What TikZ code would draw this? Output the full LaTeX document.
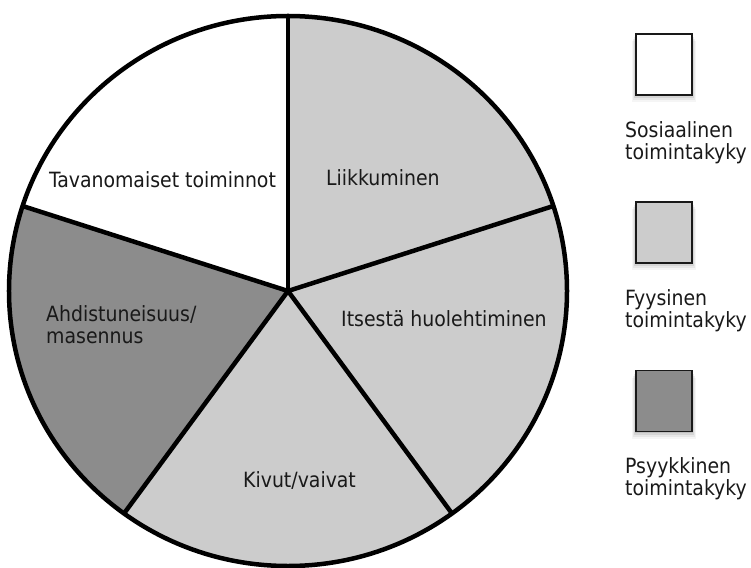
\documentclass[tikz,border=0pt]{standalone}
\usepackage{fontspec}
\setmainfont{DejaVu Sans Condensed}
\begin{document}
\begin{tikzpicture}[x=1pt,y=1pt,
  outline/.style={draw=black,line width=4.5pt,line join=round},
  lbl/.style={font=\fontsize{21}{25}\selectfont,inner sep=0pt,align=left,text=black!90},
  legbox/.style={draw=black!90,line width=1.8pt,minimum width=56pt,minimum height=61pt,inner sep=0pt},
  shadowbox/.style={fill=black,draw=none,minimum width=56pt,minimum height=61pt,inner sep=0pt},
  ell/.style={x radius=279pt,y radius=275pt}]
\definecolor{lightg}{HTML}{CCCCCC}
\definecolor{darkg}{HTML}{8C8C8C}
\useasboundingbox (-288,-276) rectangle (463,291);
\coordinate (c) at (0,0);
\coordinate (p1) at (90:279pt and 275pt);
\coordinate (p2) at (18:279pt and 275pt);
\coordinate (p3) at (-54:279pt and 275pt);
\coordinate (p4) at (-126:279pt and 275pt);
\coordinate (p5) at (162:279pt and 275pt);
% slices
\fill[lightg] (c) -- (p1) arc[start angle=90,end angle=-126,ell] -- cycle;
\fill[white] (c) -- (p1) arc[start angle=90,end angle=162,ell] -- cycle;
\fill[darkg] (c) -- (p5) arc[start angle=162,end angle=234,ell] -- cycle;
% boundaries
\draw[outline] (c) ellipse[ell];
\foreach \p in {p1,p2,p3,p4,p5} \draw[outline] (c) -- (\p);
% labels
\node[lbl,anchor=base west] (tav) at (-239,103) {Tavanomaiset toiminnot};
\node[lbl,anchor=base west] (lii) at (38,105) {Liikkuminen};
\node[lbl,anchor=base west] (its) at (53,-35) {Itsestä huolehtiminen};
\node[lbl,anchor=base west] (ahd1) at (-242,-30) {Ahdistuneisuus/};
\node[lbl,anchor=base west] (ahd2) at (-242,-52) {masennus};
\node[lbl,anchor=base west] (kiv) at (-45,-196) {Kivut/vaivat};
% legend shadows (soft)
\foreach \y in {226.5,58.5,-110}{
  \foreach \d/\o in {7/0.04,5/0.06,3/0.08,1.5/0.1}{
    \fill[black,opacity=\o] (376-28-\d*0.6,\y-30.5-\d) rectangle (376+28+\d*0.6,\y+30.5-\d);
  }
}
\node[legbox,fill=white] (b1) at (376,226.5) {};
\node[legbox,fill=lightg] (b2) at (376,58.5) {};
\node[legbox,fill=darkg] (b3) at (376,-110) {};
\node[lbl,anchor=base west] (t1a) at (337,153) {Sosiaalinen};
\node[lbl,anchor=base west] (t1b) at (337,131) {toimintakyky};
\node[lbl,anchor=base west] (t2a) at (337,-14) {Fyysinen};
\node[lbl,anchor=base west] (t2b) at (337,-36) {toimintakyky};
\node[lbl,anchor=base west] (t3a) at (337,-182) {Psyykkinen};
\node[lbl,anchor=base west] (t3b) at (337,-204) {toimintakyky};
\end{tikzpicture}
\end{document}
